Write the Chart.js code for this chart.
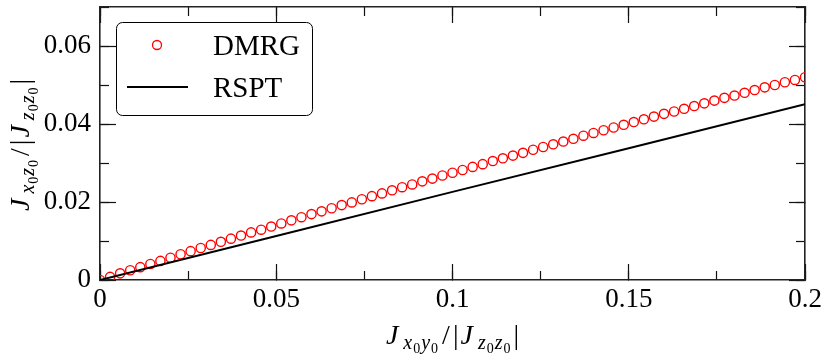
<!DOCTYPE html>
<html>
<head>
<meta charset="utf-8">
<script src="https://cdn.jsdelivr.net/npm/chart.js@4/dist/chart.umd.min.js"></script>
<style>
body { margin: 0; background: #fff; }
</style>
</head>
<body>
<canvas id="grafico" width="830" height="360"></canvas>
<script>
// dados
var xDmrg = [0, 0.00286, 0.00571, 0.00857, 0.01143, 0.01429, 0.01714, 0.02, 0.02286, 0.02571,
    0.02857, 0.03143, 0.03429, 0.03714, 0.04, 0.04286, 0.04571, 0.04857, 0.05143, 0.05429,
    0.05714, 0.06, 0.06286, 0.06571, 0.06857, 0.07143, 0.07429, 0.07714, 0.08, 0.08286,
    0.08571, 0.08857, 0.09143, 0.09429, 0.09714, 0.1, 0.10286, 0.10571, 0.10857, 0.11143,
    0.11429, 0.11714, 0.12, 0.12286, 0.12571, 0.12857, 0.13143, 0.13429, 0.13714, 0.14,
    0.14286, 0.14571, 0.14857, 0.15143, 0.15429, 0.15714, 0.16, 0.16286, 0.16571, 0.16857,
    0.17143, 0.17429, 0.17714, 0.18, 0.18286, 0.18571, 0.18857, 0.19143, 0.19429, 0.19714,
    0.2]
var yDmrg = [0, 0.0008, 0.0017, 0.0025, 0.0033, 0.0041, 0.0049, 0.0057, 0.0066, 0.0074,
    0.0082, 0.0090, 0.0098, 0.0106, 0.0114, 0.0122, 0.0129, 0.0137, 0.0145, 0.0153,
    0.0161, 0.0169, 0.0176, 0.0184, 0.0192, 0.0199, 0.0207, 0.0215, 0.0222, 0.0230,
    0.0238, 0.0245, 0.0253, 0.0260, 0.0268, 0.0275, 0.0282, 0.0290, 0.0297, 0.0305,
    0.0312, 0.0319, 0.0326, 0.0334, 0.0341, 0.0348, 0.0355, 0.0362, 0.0370, 0.0377,
    0.0384, 0.0391, 0.0398, 0.0405, 0.0412, 0.0419, 0.0426, 0.0432, 0.0439, 0.0446,
    0.0453, 0.0460, 0.0467, 0.0473, 0.0480, 0.0487, 0.0494, 0.0500, 0.0507, 0.0513,
    0.0520]
var xRspt = [0, 0.05, 0.1, 0.15, 0.2]
var yRspt = [0, 0.0113, 0.0226, 0.0338, 0.0451]
var legendLabels = ['DMRG', 'RSPT']

var xTicks = [0, 0.05, 0.1, 0.15, 0.2]
var xTickLabels = ['0', '0.05', '0.1', '0.15', '0.2']
var xMinorTicks = [0, 0.025, 0.05, 0.075, 0.1, 0.125, 0.15, 0.175, 0.2]
var yTicks = [0, 0.02, 0.04, 0.06]
var yTickLabels = ['0', '0.02', '0.04', '0.06']
var yMinorTicks = [0, 0.01, 0.02, 0.03, 0.04, 0.05, 0.06, 0.07]

var SERIF = '"Liberation Serif", "Times New Roman", serif'

function toPoints(xs, ys) { //junta x e y em pontos
    return xs.map((x, i) => ({x: x, y: ys[i]}))
}

function makeAxis(pos, lista, labels, comp, peso, tamanho, borda) { //cria um eixo com ticks para dentro
    let horizontal = (pos == 'top' || pos == 'bottom')
    let eixo = {
        type: 'linear',
        axis: horizontal ? 'x' : 'y',
        position: pos,
        weight: peso,
        min: 0,
        max: horizontal ? 0.2 : 0.07,
        afterBuildTicks: scale => { scale.ticks = lista.map(v => ({value: v})) },
        afterFit: scale => {
            if (horizontal) scale.height = tamanho
            else scale.width = tamanho
            scale.paddingLeft = 0; scale.paddingRight = 0
            scale.paddingTop = 0; scale.paddingBottom = 0
        },
        grid: {drawOnChartArea: false, drawTicks: true, tickLength: comp, tickColor: '#111', tickWidth: 1.2},
        border: {display: borda, color: '#222', width: 1.6},
        ticks: {display: false}
    }
    if (labels) {
        eixo.ticks = {
            display: true, autoSkip: false, maxRotation: 0, minRotation: 0,
            padding: horizontal ? 20 : 25,
            color: '#000',
            font: {family: SERIF, size: 27},
            callback: (v, i) => labels[i]
        }
    }
    return eixo
}

function drawMath(ctx, partes, cx, cy) { //desenha texto com subscritos
    let total = 0
    for (let p of partes) {
        ctx.font = p[1]
        p.w = ctx.measureText(p[0]).width + p[3]
        total += p.w
    }
    let x = cx - total / 2
    for (let p of partes) {
        ctx.font = p[1]
        ctx.fillText(p[0], x, cy + p[2])
        x += p.w
    }
}

var IT = 'italic 28px ' + SERIF
var SUB = 'italic 20px ' + SERIF
var SS = '14px ' + SERIF
var UP = '28px ' + SERIF
var xTitle = [['J', IT, 0, 5], ['x', SUB, 5, 1], ['0', SS, 9, 1], ['y', SUB, 5, 1], ['0', SS, 9, 4],
    ['/', UP, 0, 3], ['|', UP, 0, 2], ['J', IT, 0, 5], ['z', SUB, 5, 1], ['0', SS, 9, 1],
    ['z', SUB, 5, 1], ['0', SS, 9, 3], ['|', UP, 0, 0]]
var yTitle = [['J', IT, 0, 5], ['x', SUB, 5, 1], ['0', SS, 9, 1], ['z', SUB, 5, 1], ['0', SS, 9, 4],
    ['/', UP, 0, 3], ['|', UP, 0, 2], ['J', IT, 0, 5], ['z', SUB, 5, 1], ['0', SS, 9, 1],
    ['z', SUB, 5, 1], ['0', SS, 9, 3], ['|', UP, 0, 0]]

var extras = { //titulos dos eixos e legenda
    id: 'extras',
    afterDraw(chart) {
        let ctx = chart.ctx
        let area = chart.chartArea
        ctx.save()
        ctx.fillStyle = '#000'
        ctx.textBaseline = 'alphabetic'
        drawMath(ctx, xTitle, (area.left + area.right) / 2, 344)
        ctx.save()
        ctx.translate(29, 145)
        ctx.rotate(-Math.PI / 2)
        drawMath(ctx, yTitle, 0, 0)
        ctx.restore()

        // legenda
        ctx.beginPath()
        ctx.roundRect(116.5, 22.5, 196, 93, 6)
        ctx.fillStyle = '#fff'
        ctx.fill()
        ctx.strokeStyle = '#000'
        ctx.lineWidth = 1
        ctx.stroke()
        let ds = chart.data.datasets
        ctx.beginPath()
        ctx.arc(157, 45, 4.5, 0, Math.PI * 2)
        ctx.strokeStyle = ds[0].borderColor
        ctx.lineWidth = 1.3
        ctx.stroke()
        ctx.beginPath()
        ctx.moveTo(127, 87)
        ctx.lineTo(188, 87)
        ctx.strokeStyle = ds[1].borderColor
        ctx.lineWidth = 2
        ctx.stroke()
        ctx.fillStyle = '#000'
        ctx.font = '29px ' + SERIF
        ctx.fillText(ds[0].label, 213, 55)
        ctx.fillText(ds[1].label, 213, 97)
        ctx.restore()
    }
}

var chart = new Chart('grafico', {
    type: 'scatter',
    data: {
        datasets: [{
            label: legendLabels[0],
            data: toPoints(xDmrg, yDmrg),
            showLine: false,
            pointStyle: 'circle',
            pointRadius: 4.6,
            pointBorderWidth: 1.4,
            borderColor: '#ff0000',
            backgroundColor: 'rgba(0,0,0,0)',
            order: 1
        }, {
            label: legendLabels[1],
            data: toPoints(xRspt, yRspt),
            showLine: true,
            pointRadius: 0,
            borderWidth: 2,
            borderColor: '#000000',
            backgroundColor: '#000000',
            order: 0
        }]
    },
    options: {
        responsive: false,
        animation: false,
        devicePixelRatio: 1,
        layout: {padding: {top: 7, right: 25, left: 0, bottom: 0}},
        plugins: {legend: {display: false}, tooltip: {enabled: false}},
        scales: {
            x: makeAxis('bottom', xTicks, xTickLabels, -16, 1, 80, true),
            xm: makeAxis('bottom', xMinorTicks, null, -9, 0, 0, false),
            x2: makeAxis('top', xTicks, null, -16, 1, 0, true),
            x2m: makeAxis('top', xMinorTicks, null, -9, 0, 0, false),
            y: makeAxis('left', yTicks, yTickLabels, -16, 1, 100, true),
            ym: makeAxis('left', yMinorTicks, null, -9, 0, 0, false),
            y2: makeAxis('right', yTicks, null, -16, 1, 0, true),
            y2m: makeAxis('right', yMinorTicks, null, -9, 0, 0, false)
        }
    },
    plugins: [extras]
})
</script>
</body>
</html>
